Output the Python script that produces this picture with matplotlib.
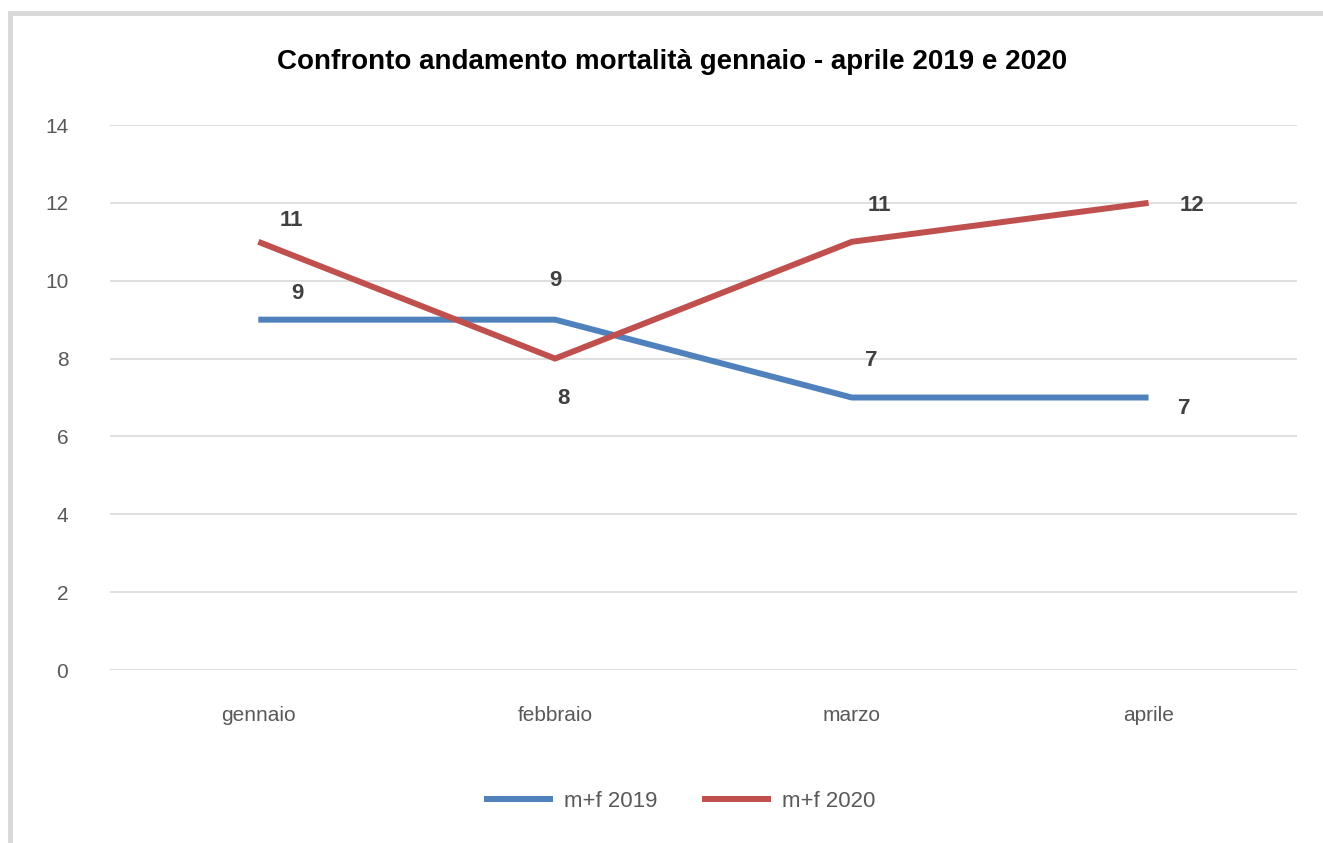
import matplotlib
matplotlib.use('Agg')
import matplotlib.pyplot as plt
from matplotlib.patches import Rectangle

months = ['gennaio', 'febbraio', 'marzo', 'aprile']
deaths_2019 = [9, 9, 7, 7]
deaths_2020 = [11, 8, 11, 12]
series_names = ['m+f 2019', 'm+f 2020']
title = 'Confronto andamento mortalità gennaio - aprile 2019 e 2020'

blue = '#4f81bd'
red = '#c0504d'
tick_col = '#595959'
label_col = '#404040'

plt.rcParams['font.family'] = ['Liberation Sans', 'DejaVu Sans']

fig = plt.figure(figsize=(13.23, 8.43), dpi=100)
ax = fig.add_axes([0.0831, 0.2052, 0.8972, 0.6465])

x = range(len(months))
ax.plot(x, deaths_2019, color=blue, lw=4.3, label=series_names[0],
        solid_capstyle='butt', zorder=3)
ax.plot(x, deaths_2020, color=red, lw=4.3, label=series_names[1],
        solid_capstyle='butt', zorder=3)

# data labels, offsets in points (dx, dy)
off_2019 = [(28, 19), (0, 28), (14, 27), (26, -8)]
off_2020 = [(24, 15), (6, -29), (20, 26), (31, -2)]
for i, v in enumerate(deaths_2019):
    ax.annotate(str(v), (i, v), xytext=off_2019[i], textcoords='offset points',
                ha='center', va='center', fontsize=16, fontweight='bold',
                color=label_col, zorder=4)
for i, v in enumerate(deaths_2020):
    ax.annotate(str(v), (i, v), xytext=off_2020[i], textcoords='offset points',
                ha='center', va='center', fontsize=16, fontweight='bold',
                color=label_col, zorder=4)

ax.set_xlim(-0.5, 3.5)
ax.set_ylim(0, 14)
ax.set_yticks(range(0, 15, 2))
ax.set_xticks(list(x))
ax.set_xticklabels(months)
ax.grid(axis='y', color='#d9d9d9', lw=1.2)
ax.set_axisbelow(True)
for s in ax.spines.values():
    s.set_visible(False)
ax.tick_params(length=0, labelsize=15, labelcolor=tick_col)
ax.tick_params(axis='x', pad=26)
ax.tick_params(axis='y', pad=30)

fig.text(0.508, 0.927, title, ha='center', va='center', fontsize=20,
         fontweight='bold', color='black')

leg = fig.legend(loc='center', bbox_to_anchor=(0.514, 0.049), ncol=2,
                 frameon=False, fontsize=16, handlelength=3.1,
                 columnspacing=2.0, handletextpad=0.5)
for t in leg.get_texts():
    t.set_color(tick_col)

# outer chart frame (left and top edges visible)
fig.patches.append(Rectangle((10 / 1323, -0.01), 1.1, 0.9946,
                             transform=fig.transFigure, fill=False,
                             edgecolor='#d9d9d9', lw=3.5))

fig.savefig('out.png', dpi=100)
